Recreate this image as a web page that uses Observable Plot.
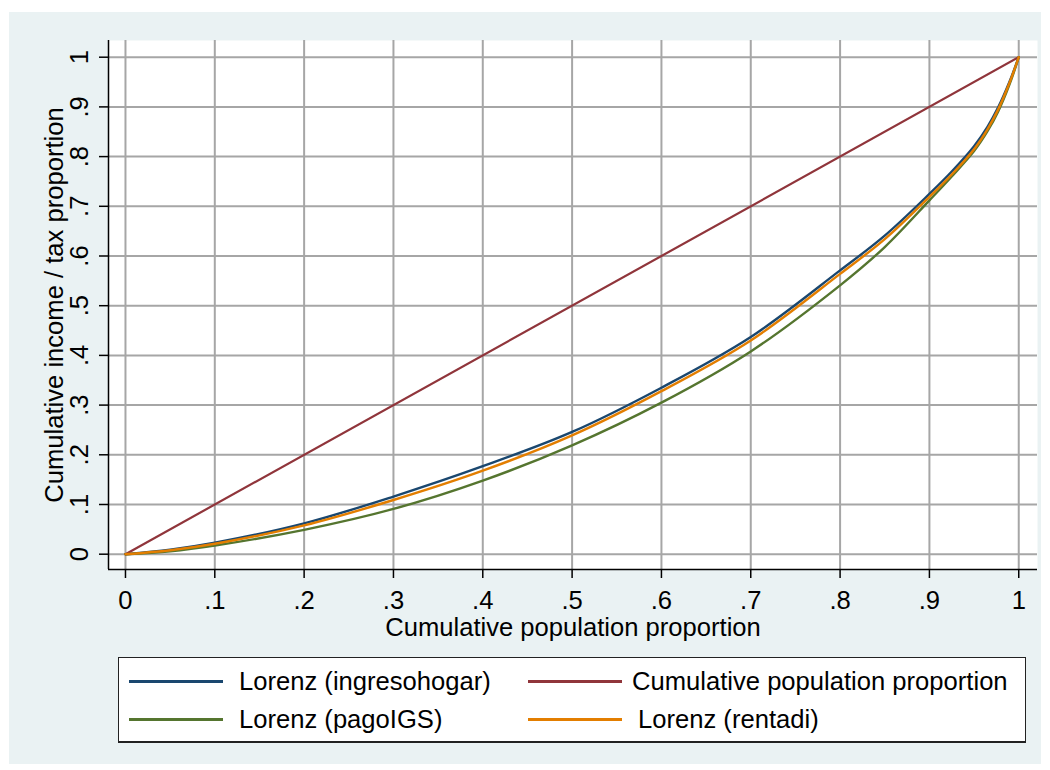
<!DOCTYPE html>
<html>
<head>
<meta charset="utf-8">
<script src="https://cdn.jsdelivr.net/npm/d3@7"></script>
<script src="https://cdn.jsdelivr.net/npm/@observablehq/plot@0.6"></script>
<style>
  html, body { margin: 0; padding: 0; background: #ffffff; }
  body { width: 1050px; height: 770px; position: relative; overflow: hidden;
         font-family: "Liberation Sans", Arial, sans-serif; }
  #bg { position: absolute; left: 9px; top: 12px; width: 1032px; height: 752px; background: #EAF2F3; }
  #chart { position: absolute; left: 0; top: 0; }
  #legend { position: absolute; left: 118px; top: 657px; width: 906px; height: 83px;
            background: #ffffff; border: 1px solid #222; border-bottom-width: 2px; box-sizing: content-box; }
  .sw { position: absolute; height: 3px; }
  .lt { position: absolute; font-size: 25.6px; line-height: 30px; color: #000; white-space: nowrap; }
</style>
</head>
<body>
<div id="bg"></div>
<div id="chart"></div>
<div id="legend"></div>
<script>
// ---- data ----
const popShare      = [0, 0.05, 0.1, 0.2, 0.3, 0.4, 0.5, 0.6, 0.7, 0.8, 0.85, 0.9, 0.925, 0.95, 0.965, 0.977, 0.99, 1];
const ingresohogar  = [0, 0.009, 0.023, 0.062, 0.116, 0.177, 0.246, 0.335, 0.437, 0.571, 0.641, 0.725, 0.770, 0.821, 0.860, 0.899, 0.952, 1];
const pagoIGS       = [0, 0.006, 0.0175, 0.049, 0.091, 0.148, 0.219, 0.305, 0.408, 0.541, 0.618, 0.712, 0.760, 0.811, 0.851, 0.891, 0.947, 1];
const rentadi       = [0, 0.008, 0.021, 0.058, 0.109, 0.168, 0.239, 0.328, 0.430, 0.564, 0.634, 0.719, 0.764, 0.815, 0.855, 0.895, 0.950, 1];
const equality      = [0, 1];

const seriesNames  = ["Lorenz (ingresohogar)", "Cumulative population proportion", "Lorenz (pagoIGS)", "Lorenz (rentadi)"];
const seriesColors = ["#1a476f", "#90353b", "#55752f", "#e37e00"];

const xTicks = [0, 0.1, 0.2, 0.3, 0.4, 0.5, 0.6, 0.7, 0.8, 0.9, 1];
const xTickLabels = ["0", ".1", ".2", ".3", ".4", ".5", ".6", ".7", ".8", ".9", "1"];
const yTicks = [0, 0.1, 0.2, 0.3, 0.4, 0.5, 0.6, 0.7, 0.8, 0.9, 1];
const yTickLabels = ["0", ".1", ".2", ".3", ".4", ".5", ".6", ".7", ".8", ".9", "1"];
const xTitle = "Cumulative population proportion";
const yTitle = "Cumulative income / tax proportion";

// ---- build tables ----
const blueRows = popShare.map((p, i) => ({series: seriesNames[0], p, v: ingresohogar[i]}));
const eqRows = equality.map(p => ({series: seriesNames[1], p, v: p}));
const greenRows = popShare.map((p, i) => ({series: seriesNames[2], p, v: pagoIGS[i]}));
const orangeRows = popShare.map((p, i) => ({series: seriesNames[3], p, v: rentadi[i]}));

const font = "'Liberation Sans', Arial, sans-serif";
const fs = 25.6;
const gridColor = "#a6a6a6";

const plot = Plot.plot({
  width: 1050,
  height: 650,
  marginLeft: 108,
  marginRight: 13,
  marginTop: 40,
  marginBottom: 81,
  style: {fontFamily: font, fontSize: fs + "px", background: "transparent", overflow: "visible", color: "#000"},
  x: {domain: [-0.019, 1.021]},
  y: {domain: [-0.0308, 1.0336]},
  marks: [
    Plot.frame({fill: "#ffffff", stroke: null}),
    Plot.gridX(xTicks, {stroke: gridColor, strokeOpacity: 1, strokeWidth: 2}),
    Plot.gridY(yTicks, {stroke: gridColor, strokeOpacity: 1, strokeWidth: 2}),
    Plot.ruleX([-0.019], {stroke: "#000", strokeWidth: 1.5}),
    Plot.ruleY([-0.0308], {stroke: "#000", strokeWidth: 1.5}),
    Plot.axisX(xTicks, {tickSize: 9, tickPadding: 12, strokeWidth: 1.5, stroke: "#000", fill: "#000",
      fontSize: fs, label: null, tickFormat: d => xTickLabels[xTicks.indexOf(d)]}),
    Plot.axisY(yTicks, {tickSize: 9, strokeWidth: 1.5, stroke: "#000", label: null, tickFormat: () => ""}),
    Plot.text(yTicks, {y: d => d, text: (d, i) => yTickLabels[i], frameAnchor: "left", dx: -29.2,
      rotate: -90, textAnchor: "middle", lineAnchor: "middle", fontSize: fs, fill: "#000"}),
    Plot.text([yTitle], {text: d => d, frameAnchor: "left", dx: -54.2, rotate: -90,
      textAnchor: "middle", lineAnchor: "middle", fontSize: fs, fill: "#000"}),
    Plot.text([xTitle], {text: d => d, frameAnchor: "bottom", dy: 57.8,
      textAnchor: "middle", lineAnchor: "middle", fontSize: fs, fill: "#000"}),
    Plot.line(blueRows, {x: "p", y: "v", stroke: seriesColors[0], strokeWidth: 2.4, curve: "catmull-rom"}),
    Plot.line(eqRows, {x: "p", y: "v", stroke: seriesColors[1], strokeWidth: 2.2}),
    Plot.line(greenRows, {x: "p", y: "v", stroke: seriesColors[2], strokeWidth: 2.4, curve: "catmull-rom"}),
    Plot.line(orangeRows, {x: "p", y: "v", stroke: seriesColors[3], strokeWidth: 2.4, curve: "catmull-rom"})
  ]
});
document.getElementById("chart").appendChild(plot);

// ---- legend ----
const legend = document.getElementById("legend");
const L0 = 118, T0 = 657;
const items = [
  {i: 0, sx: 129, sw: 94, tx: 239, lineY: 681, base: 690},
  {i: 1, sx: 528, sw: 94, tx: 632, lineY: 681, base: 690},
  {i: 2, sx: 129, sw: 94, tx: 239, lineY: 719, base: 728.3},
  {i: 3, sx: 528, sw: 94, tx: 638, lineY: 719, base: 728.3}
];
items.forEach(it => {
  const s = document.createElement("div");
  s.className = "sw";
  s.style.left = (it.sx - L0 - 1) + "px";
  s.style.top = (it.lineY - T0 - 2.5) + "px";
  s.style.width = it.sw + "px";
  s.style.background = seriesColors[it.i];
  legend.appendChild(s);
  const t = document.createElement("div");
  t.className = "lt";
  t.style.left = (it.tx - L0 - 1) + "px";
  t.style.top = (it.base - 23.9 - T0 - 1) + "px";
  t.textContent = seriesNames[it.i];
  legend.appendChild(t);
});
</script>
</body>
</html>
